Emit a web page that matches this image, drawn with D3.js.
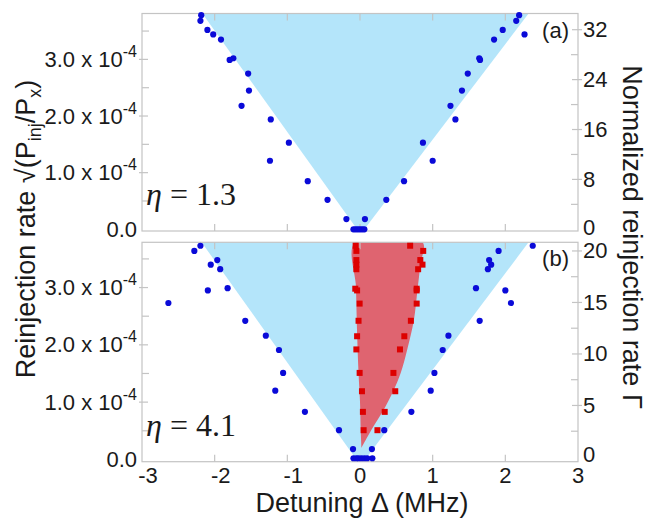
<!DOCTYPE html>
<html>
<head>
<meta charset="utf-8">
<script src="https://cdn.jsdelivr.net/npm/d3@7"></script>
<style>
  html, body { margin: 0; padding: 0; background: #fff; }
  svg { display: block; }
  text { font-family: "Liberation Sans", Arial, sans-serif; fill: #1a1a1a; }
</style>
</head>
<body>
<svg id="chart" width="646" height="521"></svg>
<script>
// ---------------- DATA ----------------
// x: detuning (MHz), y: reinjection rate (units of 1e-4)
const topBlueX = [-2.185,-2.196,-2.10,-2.02,-1.913,-1.794,-1.743,-1.539,-1.528,-1.63,-1.228,-0.979,-1.239,-0.719,-0.447,-0.187,
                  2.19,2.15,1.964,2.264,1.845,1.652,1.641,1.483,1.403,1.245,1.313,0.866,1.0,0.606,0.362,0.068,
                  -0.09,-0.06,-0.03,0.0,0.03,0.06];
const topBlueY = [3.78,3.68,3.52,3.44,3.35,2.99,3.02,2.75,2.45,2.18,1.94,1.53,1.21,0.85,0.52,0.18,
                  3.78,3.68,3.52,3.44,3.35,2.99,3.02,2.75,2.45,2.18,1.94,1.53,1.21,0.85,0.52,0.18,
                  0,0,0,0,0,0];
const botBlueX = [-2.196,-2.28,-1.964,-2.054,-1.924,-2.094,-1.822,-2.637,-1.579,-1.296,-1.115,-1.058,-1.166,-0.758,-0.289,-0.096,
                  2.377,1.907,1.777,1.805,1.76,2.0,1.596,2.077,1.647,1.217,1.138,1.024,0.973,0.707,0.334,0.164,
                  -0.09,-0.05,-0.02,0.02,0.06,0.1,0.17];
const botBlueY = [3.73,3.64,3.48,3.40,3.32,2.95,2.99,2.73,2.42,2.16,1.91,1.51,1.20,0.83,0.51,0.18,
                  3.73,3.64,3.48,3.40,3.32,2.95,2.99,2.73,2.42,2.16,1.91,1.51,1.20,0.83,0.51,0.18,
                  0.02,0.02,0.02,0.02,0.02,0.02,0.02];
const redY      = [3.73,3.64,3.48,3.40,3.32,2.98,2.95,2.72,2.42,2.15,1.92,1.51,1.19,0.83,0.51];
const redLeftX  = [-0.06,-0.05,-0.05,-0.05,-0.05,-0.065,-0.04,-0.005,-0.02,-0.04,-0.05,-0.005,0.027,0.04,0.05];
const redRightX = [0.69,0.87,0.83,0.86,0.80,0.78,0.78,0.78,0.70,0.61,0.55,0.46,0.485,0.34,0.24];
// shaded regions (x, y in 1e-4)
const topLockX = [-2.17,-0.04,0.06,2.32];
const topLockY = [3.81,0,0,3.81];
const botLockX = [-2.18,-0.05,0.07,2.32];
const botLockY = [3.79,0,0,3.79];
const redEdgeLeftX  = [0.02,0.01,0.0,-0.02,-0.04,-0.055,-0.07];
const redEdgeLeftY  = [0.2,0.5,1.0,1.5,2.2,3.0,3.79];
const redEdgeRightX = [0.02,0.15,0.31,0.46,0.56,0.65,0.74,0.79,0.83,0.86];
const redEdgeRightY = [0.2,0.5,0.83,1.2,1.51,1.92,2.42,2.95,3.4,3.79];
// ticks
const xTicks = [-3,-2,-1,0,1,2,3];
const leftMajor = [0,1,2,3];
const leftMinor = [0.5,1.5,2.5,3.5];
const topRightMajor = [0,8,16,24,32];
const topRightMinor = [4,12,20,28];
const botRightMajor = [0,5,10,15,20];
const botRightMinor = [2.5,7.5,12.5,17.5];

// ---------------- SCALES ----------------
const svg = d3.select("#chart");
const X0 = 142, X1 = 578;
const x = d3.scaleLinear().domain([-3,3]).range([X0,X1]);
const panels = [
  { y: d3.scaleLinear().domain([-0.03,3.81]).range([231,13.5]),
    yr: d3.scaleLinear().domain([-0.27,34.6]).range([231,13.5]),
    rMajor: topRightMajor, rMinor: topRightMinor,
    lockX: topLockX, lockY: topLockY, bx: topBlueX, by: topBlueY,
    label: "(a)", eta: "1.3", showX: false, red: false },
  { y: d3.scaleLinear().domain([-0.04,3.79]).range([461.7,242.3]),
    yr: d3.scaleLinear().domain([-0.46,20.84]).range([461.7,242.3]),
    rMajor: botRightMajor, rMinor: botRightMinor,
    lockX: botLockX, lockY: botLockY, bx: botBlueX, by: botBlueY,
    label: "(b)", eta: "4.1", showX: true, red: true }
];

const frameColor = "#c4c4c4";
const TF = 22; // tick font size
panels.forEach((p, pi) => {
  const g = svg.append("g");
  const [yB, yT] = p.y.range();
  const clipId = "clip" + pi;
  svg.append("clipPath").attr("id", clipId).append("rect")
    .attr("x", X0).attr("y", yT).attr("width", X1 - X0).attr("height", yB - yT);
  const inner = g.append("g").attr("clip-path", `url(#${clipId})`);

  // blue locking region
  const line = d3.line().x(d => x(d[0])).y(d => p.y(d[1]));
  inner.append("path")
    .attr("d", line(p.lockX.map((v,i)=>[v,p.lockY[i]])) + "Z")
    .attr("fill", "#b4e5fa");

  if (p.red) {
    const left = redEdgeLeftX.map((v,i)=>[v,redEdgeLeftY[i]]);
    const right = redEdgeRightX.map((v,i)=>[v,redEdgeRightY[i]]).reverse();
    const curve = d3.line().x(d => x(d[0])).y(d => p.y(d[1])).curve(d3.curveCatmullRom);
    inner.append("path")
      .attr("d", curve(left.concat(right)) + "Z")
      .attr("fill", "#df6470");
  }

  // frame
  g.append("rect").attr("x", X0).attr("y", yT).attr("width", X1 - X0).attr("height", yB - yT)
    .attr("fill", "none").attr("stroke", frameColor).attr("stroke-width", 1.2);

  // ticks (inward)
  const tk = g.append("g").attr("stroke", frameColor).attr("stroke-width", 1.2);
  xTicks.slice(1, -1).forEach(t => {
    tk.append("line").attr("x1", x(t)).attr("x2", x(t)).attr("y1", yT).attr("y2", yT + 7);
    tk.append("line").attr("x1", x(t)).attr("x2", x(t)).attr("y1", yB).attr("y2", yB - 7);
  });
  leftMajor.forEach(t => { if (t > 0) tk.append("line").attr("x1", X0 - 3).attr("x2", X0 + 6).attr("y1", p.y(t)).attr("y2", p.y(t)); });
  leftMinor.forEach(t => tk.append("line").attr("x1", X0).attr("x2", X0 + 7).attr("y1", p.y(t)).attr("y2", p.y(t)));
  p.rMajor.forEach(t => { if (t > 0) tk.append("line").attr("x1", X1 - 6).attr("x2", X1 + 4).attr("y1", p.yr(t)).attr("y2", p.yr(t)); });
  p.rMinor.forEach(t => tk.append("line").attr("x1", X1).attr("x2", X1 - 7).attr("y1", p.yr(t)).attr("y2", p.yr(t)));

  // blue points
  g.append("g").selectAll("circle").data(p.bx.map((v,i)=>[v,p.by[i]])).join("circle")
    .attr("cx", d => x(d[0])).attr("cy", d => p.y(d[1])).attr("r", 3.1).attr("fill", "#0a0ad8");

  if (p.red) {
    const sq = [];
    redY.forEach((yv,i) => { sq.push([redLeftX[i], yv]); sq.push([redRightX[i], yv]); });
    g.append("g").selectAll("rect").data(sq).join("rect")
      .attr("x", d => x(d[0]) - 3).attr("y", d => p.y(d[1]) - 3)
      .attr("width", 6).attr("height", 6).attr("fill", "#dd0000");
  }

  // left tick labels
  leftMajor.forEach(t => {
    const tx = g.append("text").attr("x", 137).attr("y", p.y(t) + 7.5)
      .attr("text-anchor", "end").attr("font-size", TF);
    if (t === 0) { tx.text("0.0"); }
    else {
      tx.append("tspan").text(t.toFixed(1) + " x 10");
      tx.append("tspan").attr("font-size", 16).attr("dy", -10).text("-4");
    }
  });
  // right tick labels
  p.rMajor.forEach(t => {
    g.append("text").attr("x", 583).attr("y", p.yr(t) + 7.5 - (t === 0 ? 2 : 0))
      .attr("font-size", TF).text(t);
  });
  // panel label
  g.append("text").attr("x", 569).attr("y", yT + 24).attr("text-anchor", "end")
    .attr("font-size", TF).text(p.label);
  // eta label
  const et = g.append("text").attr("x", 146).attr("y", yB - 26)
    .style("font-family", "'Liberation Serif', 'DejaVu Serif', serif").attr("font-size", 32);
  et.append("tspan").attr("font-style", "italic").text("η");
  et.append("tspan").text(" = " + p.eta);

  if (p.showX) {
    xTicks.forEach(t => {
      g.append("text").attr("x", x(t) + (t < 0 ? 6 : 0)).attr("y", yB + 21)
        .attr("text-anchor", "middle").attr("font-size", TF).text(t);
    });
  }
});

// axis titles
svg.append("text").attr("x", 362).attr("y", 512).attr("text-anchor", "middle")
  .attr("font-size", 27).text("Detuning Δ (MHz)");

const lt = svg.append("text").attr("transform", "translate(35,229) rotate(-90)")
  .attr("text-anchor", "middle").attr("font-size", 27);
lt.append("tspan").text("Reinjection rate √(P");
lt.append("tspan").attr("font-size", 18).attr("dy", 6).text("inj");
lt.append("tspan").attr("dy", -6).text("/P");
lt.append("tspan").attr("font-size", 18).attr("dy", 6).text("x");
lt.append("tspan").attr("dy", -6).text(")");

svg.append("text").attr("transform", "translate(623,237) rotate(90)")
  .attr("text-anchor", "middle").attr("font-size", 27).text("Normalized reinjection rate Γ");
</script>
</body>
</html>
